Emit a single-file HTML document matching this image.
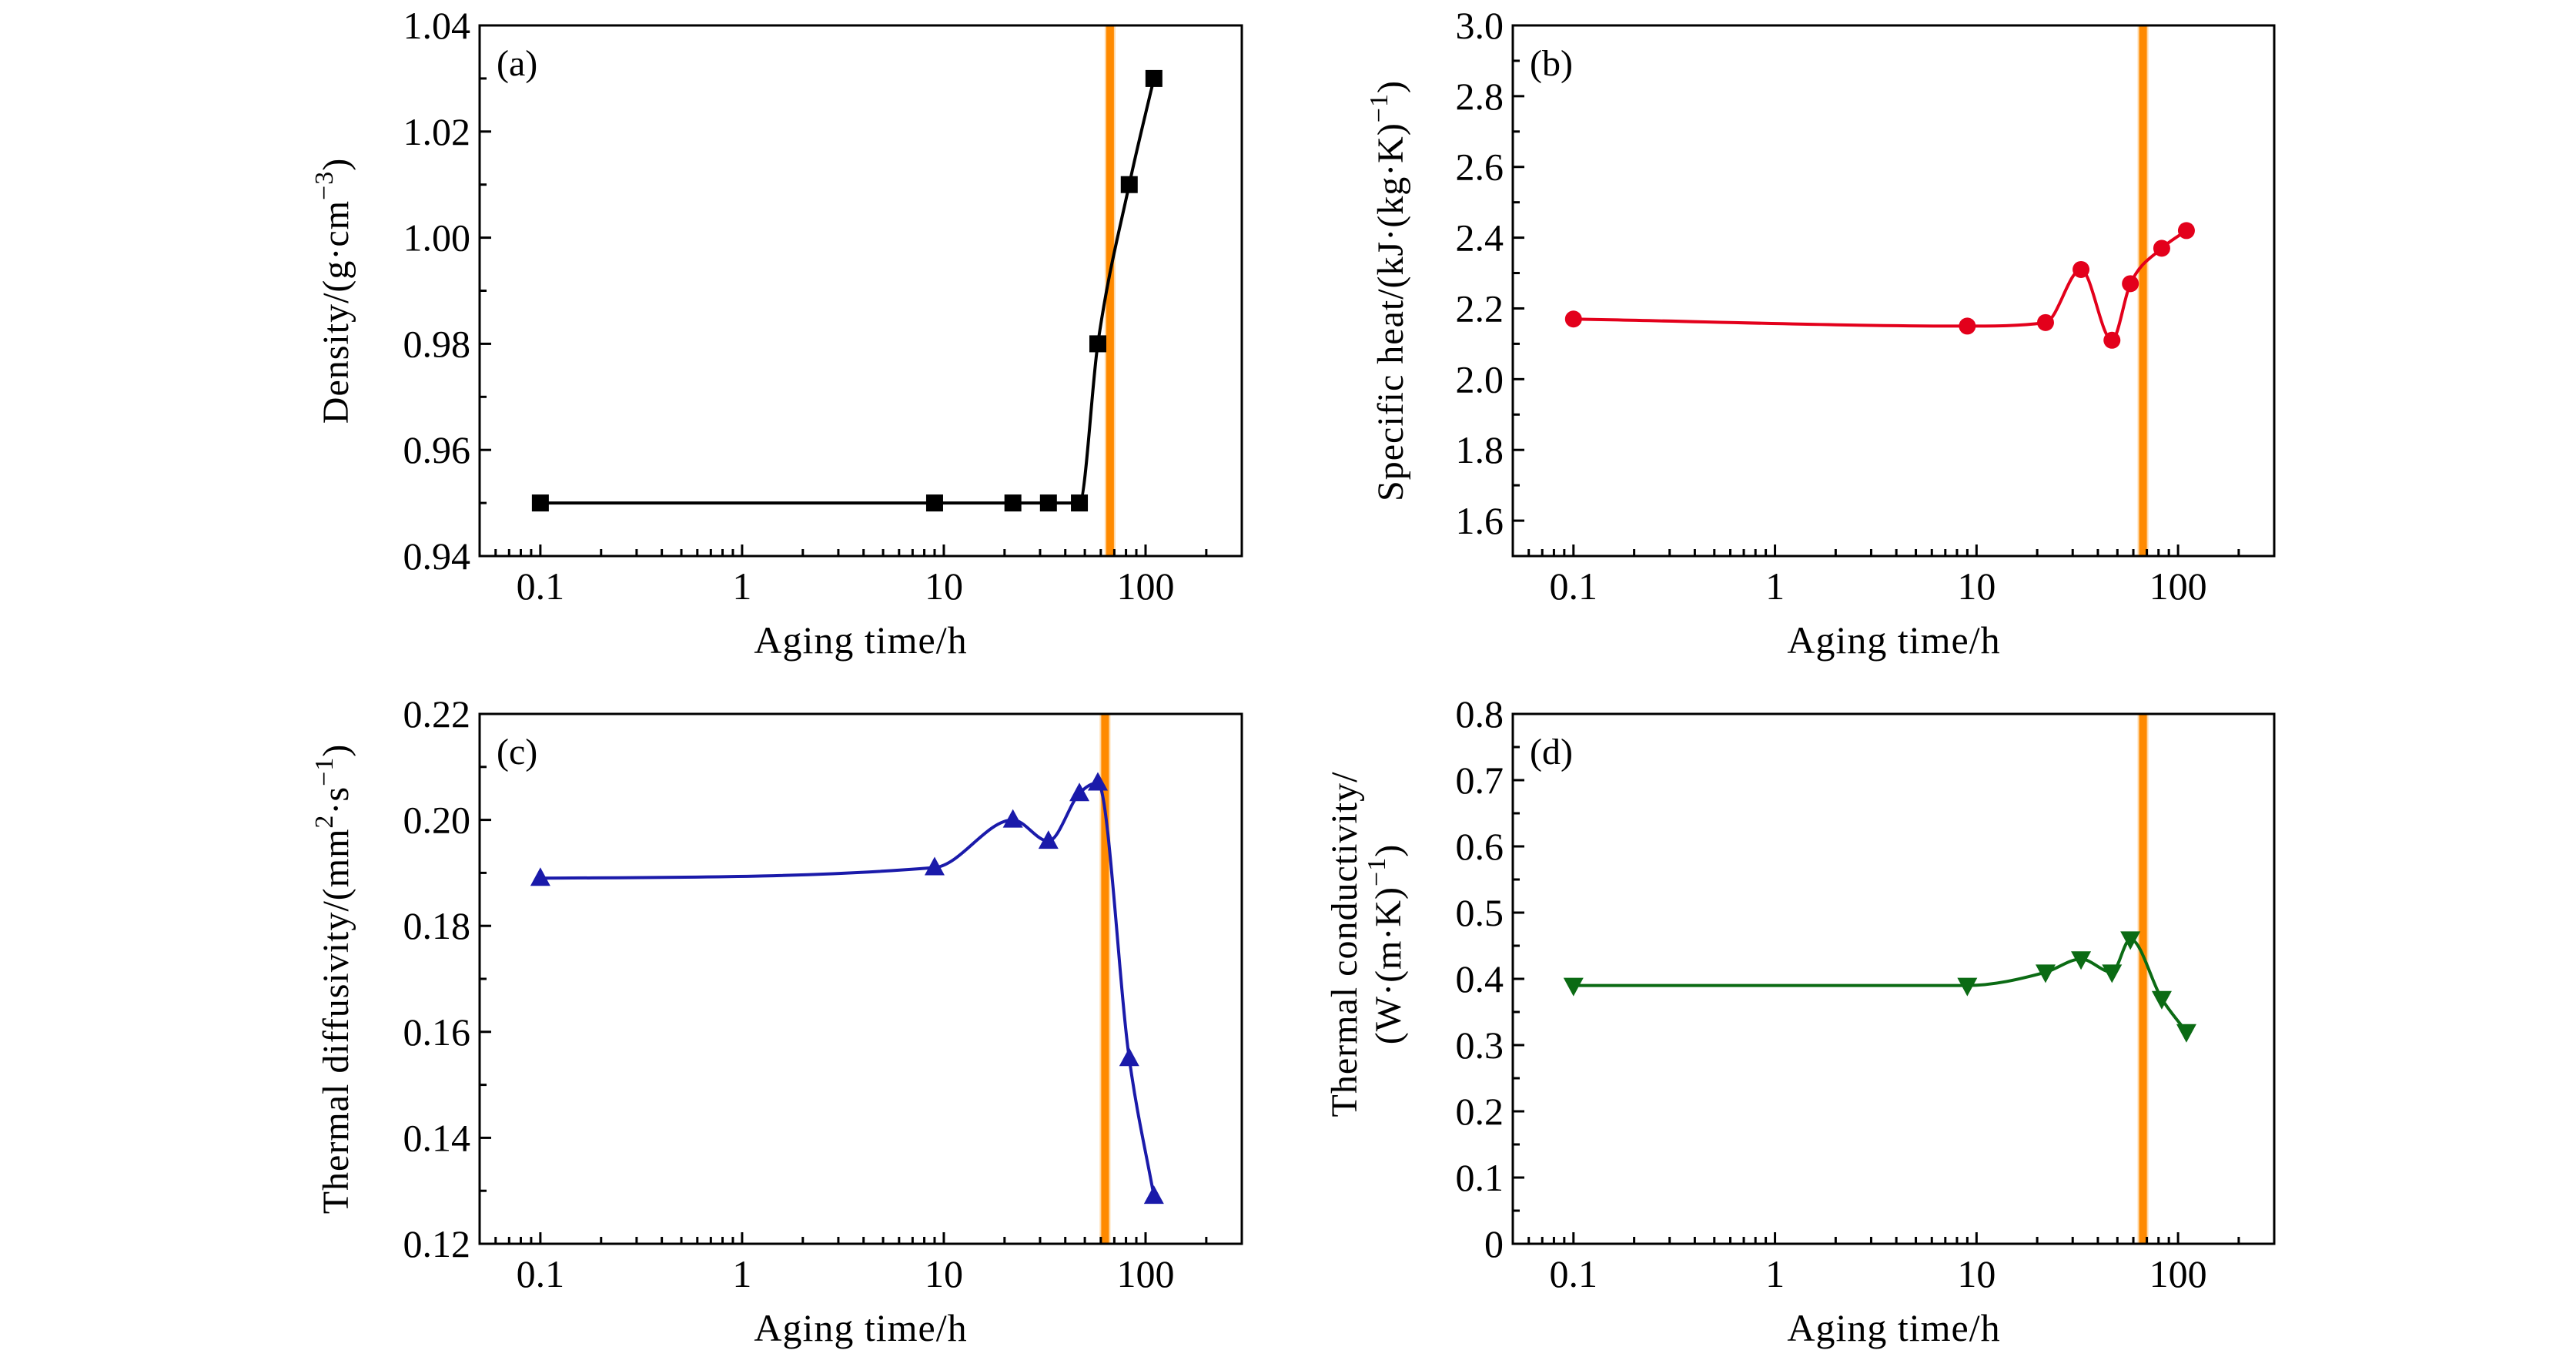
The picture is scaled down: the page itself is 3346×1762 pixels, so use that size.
<!DOCTYPE html>
<html><head><meta charset="utf-8"><style>
html,body{margin:0;padding:0;background:#fff;}
svg{display:block;}
text{font-family:"Liberation Serif","DejaVu Serif",serif;fill:#000;}
</style></head><body>
<svg id="fig" width="3346" height="1762" viewBox="0 0 3346 1762" xmlns="http://www.w3.org/2000/svg"></svg>
<script>
const agingHours = [0.1, 9, 22, 33, 47, 58, 83, 110];
const densityValues = [0.95, 0.95, 0.95, 0.95, 0.95, 0.98, 1.01, 1.03];
const specificHeatValues = [2.17, 2.15, 2.16, 2.31, 2.11, 2.27, 2.37, 2.42];
const diffusivityValues = [0.189, 0.191, 0.200, 0.196, 0.205, 0.207, 0.155, 0.129];
const conductivityValues = [0.39, 0.39, 0.41, 0.43, 0.41, 0.46, 0.37, 0.32];
const xTickLabels = ["0.1", "1", "10", "100"];
const xTickValues = [0.1, 1, 10, 100];
const densityTicks = ["0.94", "0.96", "0.98", "1.00", "1.02", "1.04"];
const heatTicks = ["1.6", "1.8", "2.0", "2.2", "2.4", "2.6", "2.8", "3.0"];
const diffTicks = ["0.12", "0.14", "0.16", "0.18", "0.20", "0.22"];
const condTicks = ["0", "0.1", "0.2", "0.3", "0.4", "0.5", "0.6", "0.7", "0.8"];
const transitionHours = [66.7, 67, 63, 67];

const NS = "http://www.w3.org/2000/svg";
const svg = document.getElementById('fig');
function mk(tag, attrs, parent) {
  const e = document.createElementNS(NS, tag);
  for (const k in attrs) e.setAttribute(k, attrs[k]);
  (parent || svg).appendChild(e);
  return e;
}

const panels = [
  {id:'a', L:623, R:1613, T:33, B:722, ymin:0.94, ymax:1.04, ticks:densityTicks, minorStep:0.01, vals:densityValues, color:'#000000', marker:'square', label:['Density/(g·cm<tspan dy="-20" font-size="34">−3</tspan><tspan dy="20">)</tspan>'], labelX:[452], xlabelX:1118},
  {id:'b', L:1965, R:2954, T:33, B:722, ymin:1.5, ymax:3.0, ticks:heatTicks, minorStep:0.1, vals:specificHeatValues, color:'#e3001b', marker:'circle', label:['Specific heat/(kJ·(kg·K)<tspan dy="-20" font-size="34">−1</tspan><tspan dy="20">)</tspan>'], labelX:[1822], xlabelX:2460},
  {id:'c', L:623, R:1613, T:927, B:1615, ymin:0.12, ymax:0.22, ticks:diffTicks, minorStep:0.01, vals:diffusivityValues, color:'#1a1aaa', marker:'tri-up', label:['Thermal diffusivity/(mm<tspan dy="-20" font-size="34">2</tspan><tspan dy="20">·s</tspan><tspan dy="-20" font-size="34">−1</tspan><tspan dy="20">)</tspan>'], labelX:[452], xlabelX:1118},
  {id:'d', L:1965, R:2954, T:927, B:1615, ymin:0, ymax:0.8, ticks:condTicks, minorStep:0.05, vals:conductivityValues, color:'#0b6b14', marker:'tri-down', label:['Thermal conductivity/','(W·(m·K)<tspan dy="-20" font-size="34">−1</tspan><tspan dy="20">)</tspan>'], labelX:[1762, 1819], xlabelX:2460}
];
const LOGMIN = Math.log10(0.05), LOGMAX = Math.log10(300);

function monotonePath(pts) {
  const n = pts.length, dx = [], sl = [], m = [];
  for (let i = 0; i < n - 1; i++) { dx[i] = pts[i+1][0] - pts[i][0]; sl[i] = (pts[i+1][1] - pts[i][1]) / dx[i]; }
  m[0] = sl[0]; m[n-1] = sl[n-2];
  for (let i = 1; i < n - 1; i++) m[i] = (sl[i-1] * sl[i] <= 0) ? 0 : (sl[i-1] + sl[i]) / 2;
  for (let i = 0; i < n - 1; i++) {
    if (sl[i] === 0) { m[i] = 0; m[i+1] = 0; continue; }
    const a = m[i] / sl[i], b = m[i+1] / sl[i], s = a*a + b*b;
    if (s > 9) { const t = 3 / Math.sqrt(s); m[i] = t*a*sl[i]; m[i+1] = t*b*sl[i]; }
  }
  let d = 'M' + pts[0][0] + ',' + pts[0][1];
  for (let i = 0; i < n - 1; i++) {
    const h = dx[i] / 3;
    d += ' C' + (pts[i][0] + h) + ',' + (pts[i][1] + m[i]*h) + ' ' + (pts[i+1][0] - h) + ',' + (pts[i+1][1] - m[i+1]*h) + ' ' + pts[i+1][0] + ',' + pts[i+1][1];
  }
  return d;
}

panels.forEach((p, pi) => {
  const g = mk('g', {});
  
  
  const xs = v => p.L + (Math.log10(v) - LOGMIN) / (LOGMAX - LOGMIN) * (p.R - p.L);
  const ys = v => p.B - (v - p.ymin) / (p.ymax - p.ymin) * (p.B - p.T);

  const ox = xs(transitionHours[pi]);
  const ol = mk('rect', {x: ox - 7, y: p.T, width: 14, height: p.B - p.T, fill: '#ffd9a8'}, g);
  
  
  const ol2 = mk('rect', {x: ox - 5, y: p.T, width: 10, height: p.B - p.T, fill: '#ff8a00'}, g);
  
  

  const pts = agingHours.map((h, i) => [xs(h), ys(p.vals[i])]);
  const cv = mk('path', {d: monotonePath(pts), fill: 'none', stroke: p.color, 'stroke-width': 4}, g);
  
  

  pts.forEach((pt) => {
    let m;
    const [x, y] = pt;
    if (p.marker === 'square') m = mk('rect', {x: x - 11, y: y - 11, width: 22, height: 22, fill: p.color}, g);
    else if (p.marker === 'circle') m = mk('circle', {cx: x, cy: y, r: 11, fill: p.color}, g);
    else if (p.marker === 'tri-up') m = mk('polygon', {points: `${x},${y - 14} ${x - 13},${y + 10} ${x + 13},${y + 10}`, fill: p.color}, g);
    else m = mk('polygon', {points: `${x},${y + 14} ${x - 13},${y - 10} ${x + 13},${y - 10}`, fill: p.color}, g);
    
    
  });

  const fr = mk('rect', {x: p.L, y: p.T, width: p.R - p.L, height: p.B - p.T, fill: 'none', stroke: '#000', 'stroke-width': 3}, g);
  
  

  for (let dec = -2; dec <= 2; dec++) {
    for (let k = 1; k <= 9; k++) {
      const v = k * Math.pow(10, dec);
      if (v < 0.05 || v > 300) continue;
      const x = xs(v);
      const t = mk('line', {x1: x, x2: x, y1: p.B, y2: p.B - (k === 1 ? 15 : 9), stroke: '#000', 'stroke-width': 3}, g);
      
      
    }
  }
  xTickValues.forEach((v, i) => {
    const t = mk('text', {x: xs(v), y: p.B + 56, 'font-size': 50, 'text-anchor': 'middle'}, g);
    t.textContent = xTickLabels[i];
    
    
  });
  const xl = mk('text', {x: p.xlabelX, y: p.B + 126, 'font-size': 50, 'text-anchor': 'middle', 'letter-spacing': 1}, g);
  xl.textContent = 'Aging time/h';
  
  

  const nMinor = Math.round((p.ymax - p.ymin) / p.minorStep);
  for (let i = 0; i <= nMinor; i++) {
    const v = p.ymin + i * p.minorStep;
    const y = ys(v);
    const major = p.ticks.some(s => Math.abs(parseFloat(s) - v) < 1e-9);
    const t = mk('line', {x1: p.L, x2: p.L + (major ? 15 : 9), y1: y, y2: y, stroke: '#000', 'stroke-width': 3}, g);
    
    
  }
  p.ticks.forEach(s => {
    const t = mk('text', {x: p.L - 12, y: ys(parseFloat(s)) + 17, 'font-size': 50, 'text-anchor': 'end'}, g);
    t.textContent = s;
    
    
  });
  const cy = (p.T + p.B) / 2 + (p.id === 'd' ? -45 : 0);
  p.label.forEach((lab, li) => {
    const t = mk('text', {x: 0, y: 0, 'font-size': 48, 'text-anchor': 'middle', 'letter-spacing': 1, transform: `translate(${p.labelX[li]},${cy}) rotate(-90)`}, g);
    t.innerHTML = lab;
    
    
  });

  const pl = mk('text', {x: p.L + 22, y: p.T + 65, 'font-size': 48}, g);
  pl.textContent = '(' + p.id + ')';
  
  
});
</script>
</body></html>
